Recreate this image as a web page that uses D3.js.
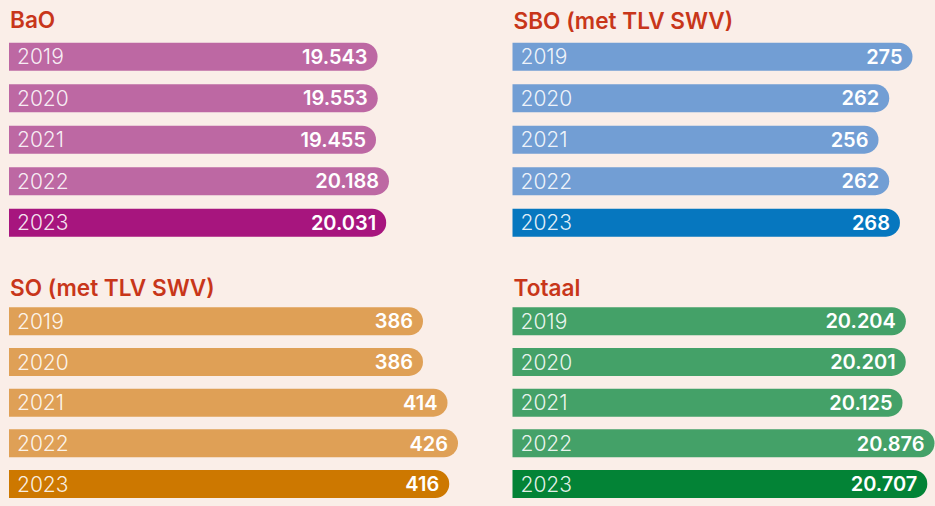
<!DOCTYPE html>
<html>
<head>
<meta charset="utf-8">
<script src="https://cdn.jsdelivr.net/npm/d3@7"></script>
<style>
  html, body { margin: 0; padding: 0; background: #faeee8; }
  svg { display: block; }
</style>
</head>
<body>
<svg id="chart" width="935" height="506"></svg>
<script>
// ---- data ----
const years = ["2019", "2020", "2021", "2022", "2023"];
const panelTitles = ["BaO", "SBO (met TLV SWV)", "SO (met TLV SWV)", "Totaal"];
const baoValues = [19543, 19553, 19455, 20188, 20031];
const sboValues = [275, 262, 256, 262, 268];
const soValues = [386, 386, 414, 426, 416];
const totaalValues = [20204, 20201, 20125, 20876, 20707];

// ---- layout / style ----
const W = 935, H = 506;
const svg = d3.select("#chart");
svg.append("rect").attr("width", W).attr("height", H).attr("fill", "#faeee8");

const nl = d3.formatLocale({ decimal: ",", thousands: ".", grouping: [3], currency: ["€", ""] });
const fmt = nl.format(",d");

const panels = [
  { title: panelTitles[0], values: baoValues, x0: 9, titleY: 28, yRange: [42.7, 236.7], pad: 0.325,
    wRange: [367, 380], light: "#bd68a3", dark: "#a7157e" },
  { title: panelTitles[1], values: sboValues, x0: 512.5, titleY: 29, yRange: [42.7, 236.7], pad: 0.325,
    wRange: [366, 400], light: "#729ed4", dark: "#0677bf" },
  { title: panelTitles[2], values: soValues, x0: 9, titleY: 296, yRange: [307.3, 498], pad: 0.312,
    wRange: [414, 449], light: "#dfa056", dark: "#cd7800" },
  { title: panelTitles[3], values: totaalValues, x0: 512.5, titleY: 296, yRange: [307.3, 498], pad: 0.312,
    wRange: [390, 422], light: "#44a168", dark: "#038336" }
];

const font = "Inter, 'Open Sans', sans-serif";

panels.forEach(p => {
  const g = svg.append("g");
  const y = d3.scaleBand().domain(years).range(p.yRange).paddingInner(p.pad).paddingOuter(0);
  const w = d3.scaleLinear().domain(d3.extent(p.values)).range(p.wRange);
  const h = y.bandwidth();
  const r = h / 2;

  g.append("text")
    .attr("x", p.x0 + 1)
    .attr("y", p.titleY)
    .attr("font-family", font)
    .attr("font-weight", 600)
    .attr("font-size", 22.6)
    .attr("fill", "#c8361a")
    .text(p.title);

  const rows = g.selectAll("g.row")
    .data(years.map((yr, i) => ({ year: yr, value: p.values[i], last: i === years.length - 1 })))
    .join("g").attr("class", "row");

  rows.append("path")
    .attr("fill", d => d.last ? p.dark : p.light)
    .attr("d", d => {
      const x0 = p.x0, x1 = p.x0 + w(d.value), top = y(d.year);
      return `M${x0},${top}H${x1 - r}A${r},${r} 0 0 1 ${x1 - r},${top + h}H${x0}Z`;
    });

  rows.append("text")
    .attr("x", p.x0 + 8)
    .attr("y", d => y(d.year) + h / 2)
    .attr("dy", "0.37em")
    .attr("font-family", font)
    .attr("font-weight", 300)
    .attr("font-size", 21)
    .attr("fill", "rgba(255,255,255,0.9)")
    .text(d => d.year);

  rows.append("text")
    .attr("x", d => p.x0 + w(d.value) - 10)
    .attr("y", d => y(d.year) + h / 2)
    .attr("dy", "0.36em")
    .attr("text-anchor", "end")
    .attr("font-family", font)
    .attr("font-weight", 600)
    .attr("font-size", 20)
    .attr("fill", "#ffffff")
    .text(d => fmt(d.value));
});
</script>
</body>
</html>
